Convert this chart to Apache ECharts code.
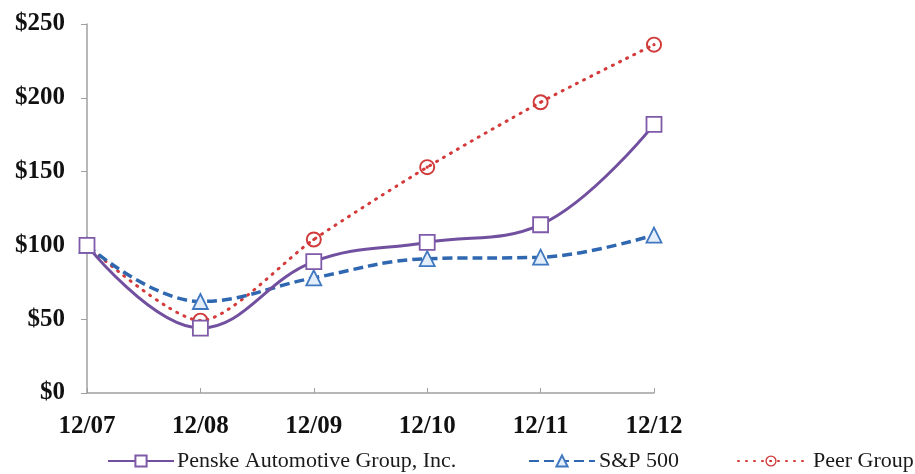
<!DOCTYPE html>
<html><head><meta charset="utf-8">
<script src="https://cdn.jsdelivr.net/npm/echarts@6/dist/echarts.min.js"></script>
<style>html,body{margin:0;padding:0;background:#fff}#c{width:915px;height:474px}</style>
</head><body><div id="c"></div>
<script>
const categories = ['12/07','12/08','12/09','12/10','12/11','12/12'];
const penske = [100, 44, 89, 102, 114, 182];
const sp500 = [100, 62, 78, 91, 92, 107];
const peer = [100, 49, 104, 153, 197, 236];
const seriesNames = ['Penske Automotive Group, Inc.', 'S&P 500', 'Peer Group'];

const font = 'Liberation Serif';
const ringDot = 'path://M50,0 A50,50 0 1,1 50,100 A50,50 0 1,1 50,0 Z M50,12 A38,38 0 1,0 50,88 A38,38 0 1,0 50,12 Z M50,40 A10,10 0 1,1 50,60 A10,10 0 1,1 50,40 Z';

const chart = echarts.init(document.getElementById('c'));
function leg(name, left, gap) {
  return {
    data: [name], left: left, top: 445, itemWidth: 66, itemHeight: 14, itemGap: 0,
    textStyle: { fontFamily: font, fontSize: 22, color: '#1a1a1a', padding: [12,0,0,gap] },
    selectedMode: false
  };
}
chart.setOption({
  animation: false,
  grid: { left: 87, right: 261, top: 24, bottom: 81 },
  legend: [leg(seriesNames[0], 102, -2), leg(seriesNames[1], 523, -1), leg(seriesNames[2], 732, 4)],
  xAxis: {
    type: 'category', data: categories, boundaryGap: false,
    axisLine: { lineStyle: { color: '#a0a0a0', width: 1.5 } },
    axisTick: { show: true, length: 5, inside: true, lineStyle: { color: '#a0a0a0' } },
    axisLabel: { fontFamily: font, fontWeight: 'bold', fontSize: 25, color: '#111', margin: 21 }
  },
  yAxis: {
    type: 'value', min: 0, max: 250, interval: 50,
    splitLine: { show: false },
    axisLine: { show: true, lineStyle: { color: '#a0a0a0', width: 1.5 } },
    axisTick: { show: true, length: 6, lineStyle: { color: '#a0a0a0' } },
    axisLabel: { fontFamily: font, fontWeight: 'bold', fontSize: 25, color: '#111', margin: 22,
      formatter: v => '$' + v }
  },
  series: [
    { name: seriesNames[0], type: 'line', data: penske, smooth: 0.4,
      symbol: 'rect', symbolSize: 15,
      itemStyle: { color: '#ffffff', borderColor: '#7f5aa8', borderWidth: 1.8 },
      lineStyle: { color: '#7250a0', width: 3 }, z: 3 },
    { name: seriesNames[1], type: 'line', data: sp500, smooth: 0.4,
      symbol: 'triangle', symbolSize: 15,
      itemStyle: { color: '#e3eefa', borderColor: '#3f78c0', borderWidth: 1.8 },
      lineStyle: { color: '#2f68b0', width: 3.5, type: [10, 5] }, z: 2 },
    { name: seriesNames[2], type: 'line', data: peer, smooth: 0.25,
      symbol: ringDot, symbolSize: 16,
      itemStyle: { color: '#d03a3a' },
      lineStyle: { color: '#d43a3a', width: 3, type: [1, 7], cap: 'round' }, z: 1 }
  ]
});
</script></body></html>
